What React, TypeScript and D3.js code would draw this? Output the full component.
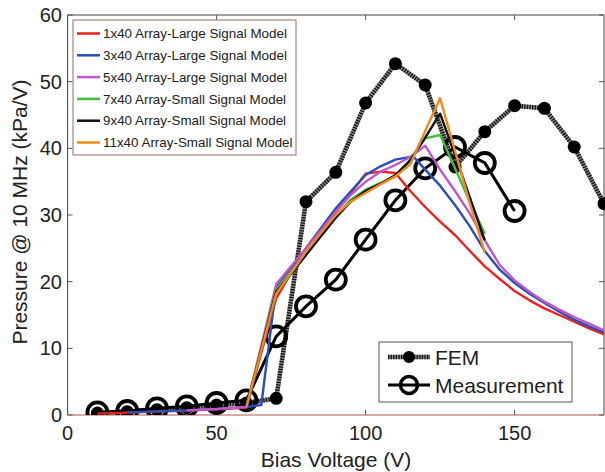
import * as d3 from "d3";

// bias voltage samples (V)
const femX = [10, 20, 30, 40, 50, 60, 70, 80, 90, 100, 110, 120, 130, 140, 150, 160, 170, 180];
const femY = [0.3, 0.5, 0.8, 1.1, 1.5, 1.8, 2.5, 32, 36.4, 46.8, 52.7, 49.5, 37.2, 42.5, 46.4, 46, 40.2, 31.7];

const measX = [10, 20, 30, 40, 50, 60, 70, 80, 90, 100, 110, 120, 130, 140, 150];
const measY = [0.4, 0.6, 1.0, 1.3, 1.8, 2.2, 11.8, 16.3, 20.3, 26.3, 32.2, 37, 40.2, 37.8, 30.6];

// model curves
const redX = [10, 20, 30, 40, 50, 60, 70, 75, 80, 85, 90, 95, 100, 105, 110, 115, 120, 125, 130, 135, 140, 145, 150, 155, 160, 165, 170, 175, 180];
const redY = [0.2, 0.35, 0.5, 0.65, 0.85, 1.1, 17.5, 21.3, 24, 27.3, 30.5, 33.3, 36.2, 36.5, 36.3, 33.6, 31.2, 29, 27, 24.6, 22.3, 20.4, 18.6, 17.2, 16, 15, 14, 13, 12.1];

const blueX = [20, 30, 40, 50, 60, 65, 70, 75, 80, 85, 90, 95, 100, 105, 110, 116, 120, 125, 130, 135, 140, 145, 150, 155, 160, 165, 170, 175, 180];
const blueY = [0.4, 0.55, 0.7, 0.9, 1.2, 1.5, 19.3, 22, 25, 28, 31, 33.5, 36, 37.3, 38.3, 38.8, 36.8, 34.4, 31.5, 28.3, 24.6, 21.8, 19.8, 18.2, 16.8, 15.5, 14.3, 13.3, 12.4];

const purpleX = [40, 50, 60, 70, 75, 80, 85, 90, 95, 100, 105, 110, 115, 120, 125, 130, 135, 140, 145, 150, 155, 160, 165, 170, 175, 180];
const purpleY = [0.7, 0.9, 1.2, 19.6, 22.3, 25, 27.7, 30.5, 33, 35, 36.5, 37.5, 38.7, 40.4, 36.8, 33.6, 30.2, 26.2, 22.5, 20.2, 18.5, 17, 15.8, 14.7, 13.7, 12.7];

const greenX = [60, 70, 75, 80, 85, 90, 95, 100, 105, 110, 115, 120, 125, 130, 135, 140];
const greenY = [1.2, 18.8, 21.5, 24.3, 27, 29.8, 32.3, 33.8, 34.8, 35.8, 38.3, 41.5, 42, 37, 32, 27.2];

const blackX = [60, 70, 75, 80, 85, 90, 95, 100, 105, 110, 115, 120, 125, 130, 135, 140];
const blackY = [1.2, 18.5, 21.2, 24, 26.8, 29.6, 32, 33.6, 34.7, 36, 38.2, 41.6, 45.2, 39, 32.6, 26.2];

const orangeX = [60, 70, 75, 80, 85, 90, 95, 100, 105, 110, 115, 120, 125, 130, 135, 140];
const orangeY = [1.2, 18.2, 21.3, 24.5, 27.3, 30, 32, 33.3, 34.6, 35.8, 37.6, 42.6, 47.5, 39.6, 31.7, 24.4];

const modelNames = [
  "1x40 Array-Large Signal Model",
  "3x40 Array-Large Signal Model",
  "5x40 Array-Large Signal Model",
  "7x40 Array-Small Signal Model",
  "9x40 Array-Small Signal Model",
  "11x40 Array-Small Signal Model",
];
const modelColors = ["#e8231f", "#2b4fb8", "#c455c4", "#3fbf3a", "#111111", "#ee8a1e"];

const xTicks = [0, 50, 100, 150];
const yTicks = [0, 10, 20, 30, 40, 50, 60];

const W = 605;
const H = 472;
const left = 67.6;
const right = 604;
const top = 15;
const bottom = 415;
const font = "'Liberation Sans', Arial, sans-serif";

export default function App() {
  const x = d3.scaleLinear().domain([0, 180]).range([left, right]);
  const y = d3.scaleLinear().domain([0, 60]).range([bottom, top]);
  const line = d3
    .line<[number, number]>()
    .x((d) => x(d[0]))
    .y((d) => y(d[1]));

  const zip = (xs: number[], ys: number[]) => xs.map((v, i) => [v, ys[i]] as [number, number]);
  const models = [
    zip(redX, redY),
    zip(blueX, blueY),
    zip(purpleX, purpleY),
    zip(greenX, greenY),
    zip(blackX, blackY),
    zip(orangeX, orangeY),
  ];
  const fem = zip(femX, femY);
  const meas = zip(measX, measY);

  return (
    <svg width={W} height={H} style={{ position: "absolute", left: 0, top: 0, background: "#fff" }}>
      <defs>
        <clipPath id="plot">
          <rect x={left} y={top - 20} width={right - left + 10} height={bottom - top + 20} />
        </clipPath>
      </defs>

      {/* frame */}
      <line x1={left} x2={right} y1={top} y2={top} stroke="#444" strokeWidth={1} />
      <line x1={left} x2={left} y1={top} y2={bottom} stroke="#444" strokeWidth={1} />
      <line x1={right} x2={right} y1={top} y2={bottom} stroke="#444" strokeWidth={1} />
      <line x1={left} x2={right} y1={bottom} y2={bottom} stroke="#b0584c" strokeWidth={1} />

      {/* ticks */}
      {xTicks.map((t) => (
        <g key={"x" + t}>
          <line x1={x(t)} x2={x(t)} y1={bottom} y2={bottom - 5} stroke="#555" />
          <line x1={x(t)} x2={x(t)} y1={top} y2={top + 5} stroke="#555" />
          <text x={x(t)} y={440} textAnchor="middle" fontFamily={font} fontSize={20} fill="#222">
            {t}
          </text>
        </g>
      ))}
      {yTicks.map((t) => (
        <g key={"y" + t}>
          <line x1={left} x2={left + 5} y1={y(t)} y2={y(t)} stroke="#555" />
          <line x1={right} x2={right - 5} y1={y(t)} y2={y(t)} stroke="#555" />
          <text x={62} y={y(t) + 7} textAnchor="end" fontFamily={font} fontSize={20} fill="#222">
            {t}
          </text>
        </g>
      ))}

      <text x={336} y={467} textAnchor="middle" fontFamily={font} fontSize={21} fill="#222">
        Bias Voltage (V)
      </text>
      <text
        transform="translate(27,212) rotate(-90)"
        textAnchor="middle"
        fontFamily={font}
        fontSize={21}
        fill="#222"
      >
        Pressure @ 10 MHz (kPa/V)
      </text>

      <g clipPath="url(#plot)">
        {/* FEM: thick dotted line with filled dots */}
        <path d={line(fem) || ""} fill="none" stroke="#8a8a8a" strokeWidth={4.5} />
        <path d={line(fem) || ""} fill="none" stroke="#111" strokeWidth={4.5} strokeDasharray="1.3 1.3" />
        {fem.map((d, i) => (
          <circle key={"f" + i} cx={x(d[0])} cy={y(d[1])} r={6.5} fill="#000" />
        ))}

        {/* Measurement: solid line with open circles */}
        <path d={line(meas) || ""} fill="none" stroke="#000" strokeWidth={3} />
        {meas.map((d, i) => (
          <circle key={"m" + i} cx={x(d[0])} cy={y(d[1])} r={10} fill="none" stroke="#000" strokeWidth={3.8} />
        ))}

        {/* models */}
        {models.map((m, i) => (
          <path key={"l" + i} d={line(m) || ""} fill="none" stroke={modelColors[i]} strokeWidth={2.4} strokeLinejoin="round" />
        ))}
      </g>

      {/* model legend */}
      <rect x={73} y={20} width={223} height={135} fill="#fff" stroke="#9c6a5c" strokeWidth={1} />
      {modelNames.map((n, i) => {
        const yy = 33.5 + i * 21.8;
        return (
          <g key={"lg" + i}>
            <line x1={77} x2={100} y1={yy} y2={yy} stroke={modelColors[i]} strokeWidth={2.5} />
            <text x={103} y={yy + 4.7} fontFamily={font} fontSize={13.4} fill="#222">
              {n}
            </text>
          </g>
        );
      })}

      {/* FEM / Measurement legend */}
      <rect x={379} y={342} width={193} height={60} fill="#fff" stroke="#555" strokeWidth={1} />
      <line x1={388} x2={430} y1={357} y2={357} stroke="#8a8a8a" strokeWidth={4.5} />
      <line x1={388} x2={430} y1={357} y2={357} stroke="#111" strokeWidth={4.5} strokeDasharray="1.3 1.3" />
      <circle cx={409} cy={357} r={6} fill="#000" />
      <text x={435} y={364.5} fontFamily={font} fontSize={21} fill="#222">
        FEM
      </text>
      <line x1={388} x2={430} y1={385} y2={385} stroke="#000" strokeWidth={3} />
      <circle cx={409} cy={385} r={8.5} fill="none" stroke="#000" strokeWidth={3.5} />
      <text x={435} y={392.5} fontFamily={font} fontSize={21} fill="#222">
        Measurement
      </text>
    </svg>
  );
}
